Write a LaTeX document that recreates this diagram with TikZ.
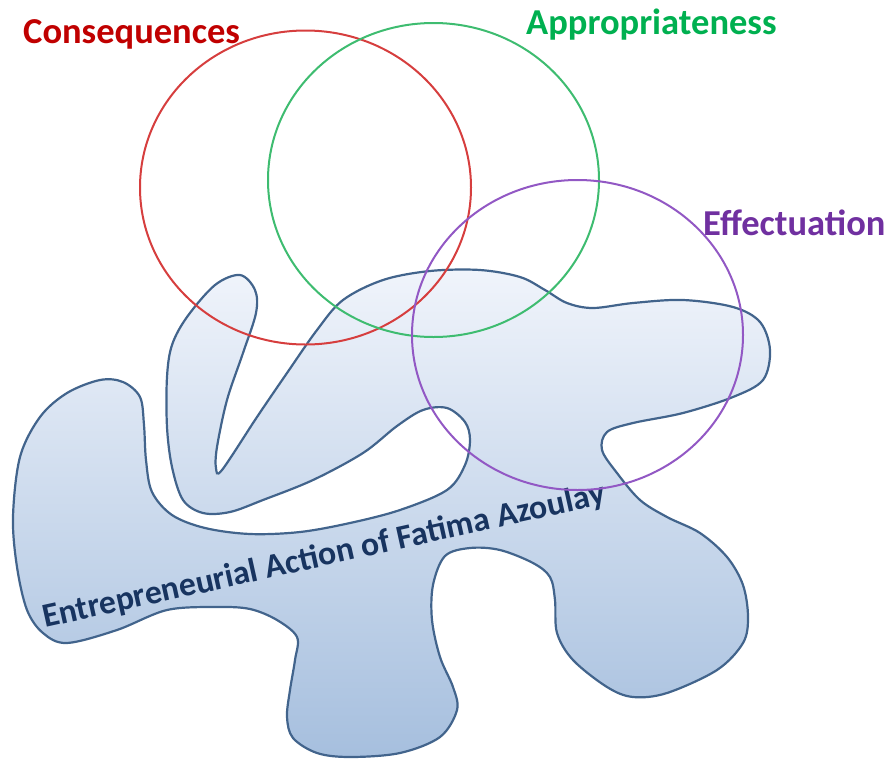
\documentclass[tikz,border=0pt]{standalone}
\usepackage{fontspec}
\setmainfont{Carlito}
\usepackage{xcolor}
\usepackage{tikz}
\usetikzlibrary{shapes.geometric}

\definecolor{conred}{RGB}{192,0,0}
\definecolor{ringred}{RGB}{214,62,62}
\definecolor{appgreen}{RGB}{0,176,80}
\definecolor{ringgreen}{RGB}{62,188,112}
\definecolor{effpurple}{RGB}{112,48,160}
\definecolor{ringpurple}{RGB}{146,88,196}
\definecolor{blobline}{RGB}{66,100,140}
\definecolor{blobtop}{RGB}{240,244,251}
\definecolor{blobbottom}{RGB}{166,191,222}
\definecolor{actionnavy}{RGB}{24,52,96}

\begin{document}
\begin{tikzpicture}[x=1pt,y=-1pt,
	ring/.style={draw, ellipse, line width=2pt, minimum width=331pt, minimum height=314pt, inner sep=0pt},
	tag/.style={font=\fontsize{36.5}{40}\selectfont\bfseries, anchor=base west, inner sep=0pt}]
	\useasboundingbox (0,0) rectangle (886,758);
	% the action blob
	\draw[blobline, line width=2.2pt, top color=blobtop, bottom color=blobbottom]
		plot[smooth cycle, tension=0.55] coordinates {
			(100,380) (123,382) (140,397) (144,425) (146,460) (152,492) (172,515)
			(205,528) (250,534) (300,532) (350,523) (400,510) (447,490) (465,465)
			(470,440) (465,422) (447,408) (423,410) (397,426) (363,453) (313,480)
			(263,500) (230,512) (203,513) (183,500) (172,467) (167,427) (167,377)
			(172,345) (187,317) (215,285) (240,275) (255,290) (256,313) (243,353)
			(227,400) (217,447) (216,468) (222,470) (257,417) (287,373) (317,330)
			(343,300) (383,280) (430,271) (480,270) (520,277) (545,290) (567,303)
			(593,308) (633,303) (683,300) (733,307) (760,322) (770,350) (763,380)
			(733,397) (683,413) (633,423) (607,432) (602,450) (617,473) (640,500)
			(667,517) (700,533) (727,557) (743,585) (748,617) (743,643) (717,670)
			(667,693) (633,697) (607,687) (573,660) (557,633) (555,600) (550,577)
			(533,563) (500,550) (470,548) (445,556) (433,585) (432,620) (440,657)
			(453,687) (457,710) (440,737) (400,753) (350,757) (317,753) (293,738)
			(287,717) (290,690) (295,660) (297,637) (277,620) (250,609) (217,607)
			(167,610) (117,630) (67,643) (43,633) (27,610) (17,567) (13,517)
			(20,457) (40,417) (67,393)};
	\node[font=\fontsize{33.8}{36}\selectfont\bfseries, text=actionnavy, rotate=12.5, anchor=base west, inner sep=0pt]
		(action) at (45,628) {Entrepreneurial Action of Fatima Azoulay};

	% the three logics
	\node[ring, draw=ringred] (consq) at (305.5,187.5) {};
	\node[ring, draw=ringgreen] (approp) at (433.5,180) {};
	\node[ring, draw=ringpurple, minimum height=310pt] (effect) at (577.5,335) {};

	\node[tag, text=conred] (consqtag) at (23,43) {Consequences};
	\node[tag, text=appgreen] (approptag) at (526,34) {Appropriateness};
	\node[tag, text=effpurple] (effecttag) at (703,235) {Effectuation};
\end{tikzpicture}
\end{document}
